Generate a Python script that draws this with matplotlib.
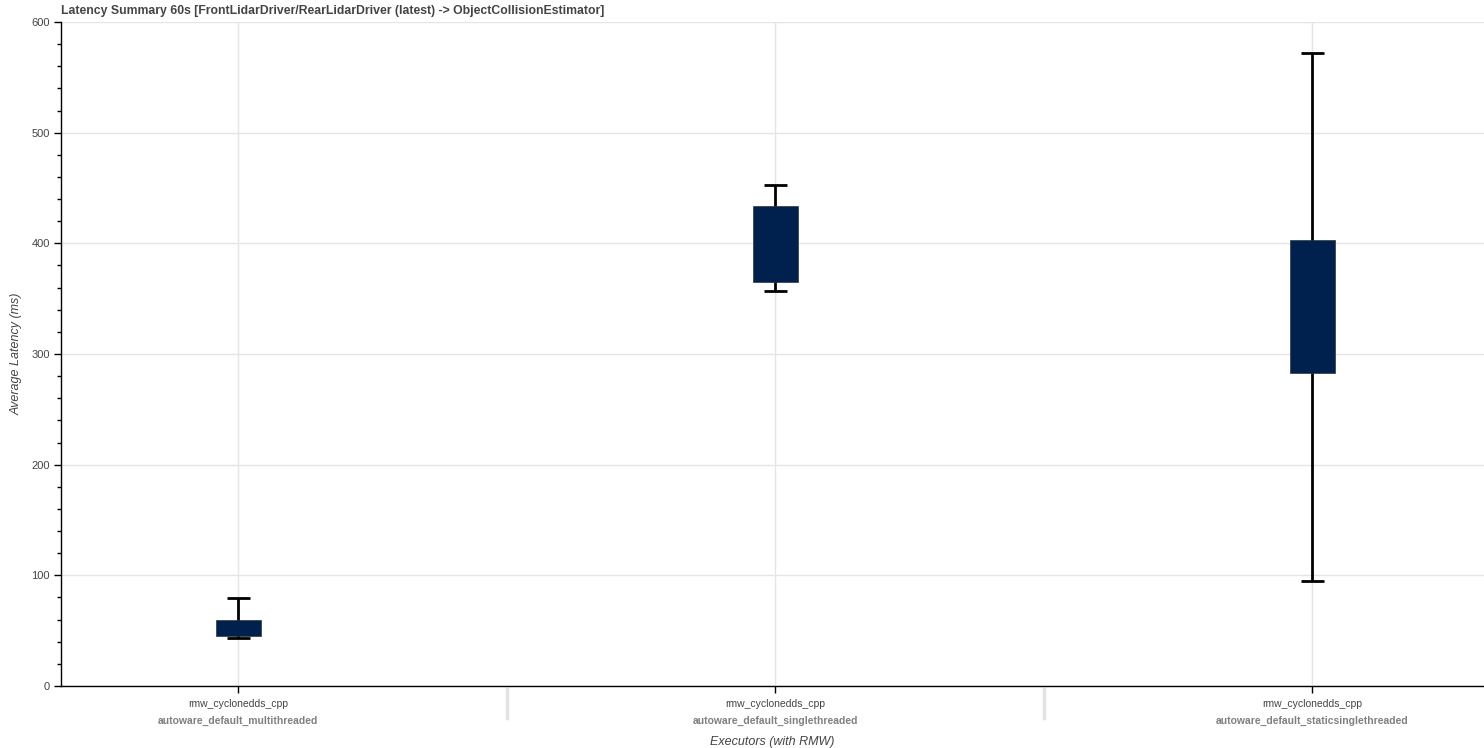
import matplotlib.pyplot as plt
from matplotlib.ticker import MultipleLocator
import matplotlib.transforms as mtransforms

plt.rcParams['font.family'] = ['Liberation Sans', 'DejaVu Sans']

executors = ["autoware_default_multithreaded",
             "autoware_default_singlethreaded",
             "autoware_default_staticsinglethreaded"]
rmw = ["rmw_cyclonedds_cpp", "rmw_cyclonedds_cpp", "rmw_cyclonedds_cpp"]

# latency stats in ms
lat_min = [43.4, 357.0, 95.0]
lat_q1 = [45.0, 365.0, 283.0]
lat_q3 = [59.6, 434.0, 403.0]
lat_max = [79.5, 453.0, 572.0]

box_color = "#00204d"
text_grey = "#444444"

fig = plt.figure(figsize=(14.84, 7.48), dpi=100)
ax = fig.add_axes([61 / 1484, 62 / 748, 1 - 61 / 1484, 664 / 748])

xs = list(range(len(executors)))

# whiskers, caps, boxes
ax.vlines(xs, lat_min, lat_max, color="black", lw=2, zorder=2)
ax.hlines(lat_max, [x - 0.0215 for x in xs], [x + 0.0215 for x in xs],
          color="black", lw=2, zorder=2)
ax.hlines(lat_min, [x - 0.0215 for x in xs], [x + 0.0215 for x in xs],
          color="black", lw=2, zorder=2)
ax.bar(xs, [h - l for h, l in zip(lat_q3, lat_q1)], bottom=lat_q1, width=0.084,
       color=box_color, edgecolor="#333333", lw=0.5, zorder=3)

ax.set_xlim(-0.33, 2.32)
ax.set_ylim(0, 600)

ax.yaxis.set_major_locator(MultipleLocator(100))
ax.yaxis.set_minor_locator(MultipleLocator(20))
ax.grid(True, which="major", color="#e5e5e5", lw=1)
ax.set_axisbelow(True)

for s in ("top", "right"):
    ax.spines[s].set_visible(False)
for s in ("left", "bottom"):
    ax.spines[s].set_color("black")
    ax.spines[s].set_linewidth(1)

ax.tick_params(axis="y", which="major", direction="out", length=5, width=1,
               labelsize=8, labelcolor=text_grey, pad=3)
ax.tick_params(axis="y", which="minor", direction="out", length=3, width=1)
ax.tick_params(axis="x", which="major", direction="out", length=5, width=1,
               labelsize=7.5, labelcolor=text_grey, pad=4.5)

ax.set_xticks(xs)
ax.set_xticklabels(rmw)

# group labels and separators below the rmw labels
trans = mtransforms.blended_transform_factory(ax.transData, ax.transAxes)
for x, name in zip(xs, executors):
    ax.text(x, -35 / 664, name, transform=trans, ha="center", va="center",
            fontsize=7.5, fontweight="bold", color="#808080")
for x in (0.5, 1.5):
    ax.plot([x, x], [-3 / 664, -32 / 664], transform=trans, color="#e3e3e3",
            lw=2.5, clip_on=False)

ax.set_xlabel("Executors (with RMW)", fontsize=9, style="italic",
              color=text_grey, labelpad=19)
ax.set_ylabel("Average Latency (ms)", fontsize=9, style="italic",
              color=text_grey, labelpad=6)

fig.text(61 / 1484, 1 - 11 / 748, "Latency Summary 60s [FrontLidarDriver/RearLidarDriver (latest) -> ObjectCollisionEstimator]",
         ha="left", va="center", fontsize=8.8, fontweight="bold", color=text_grey)

fig.savefig("out.png", dpi=100)
